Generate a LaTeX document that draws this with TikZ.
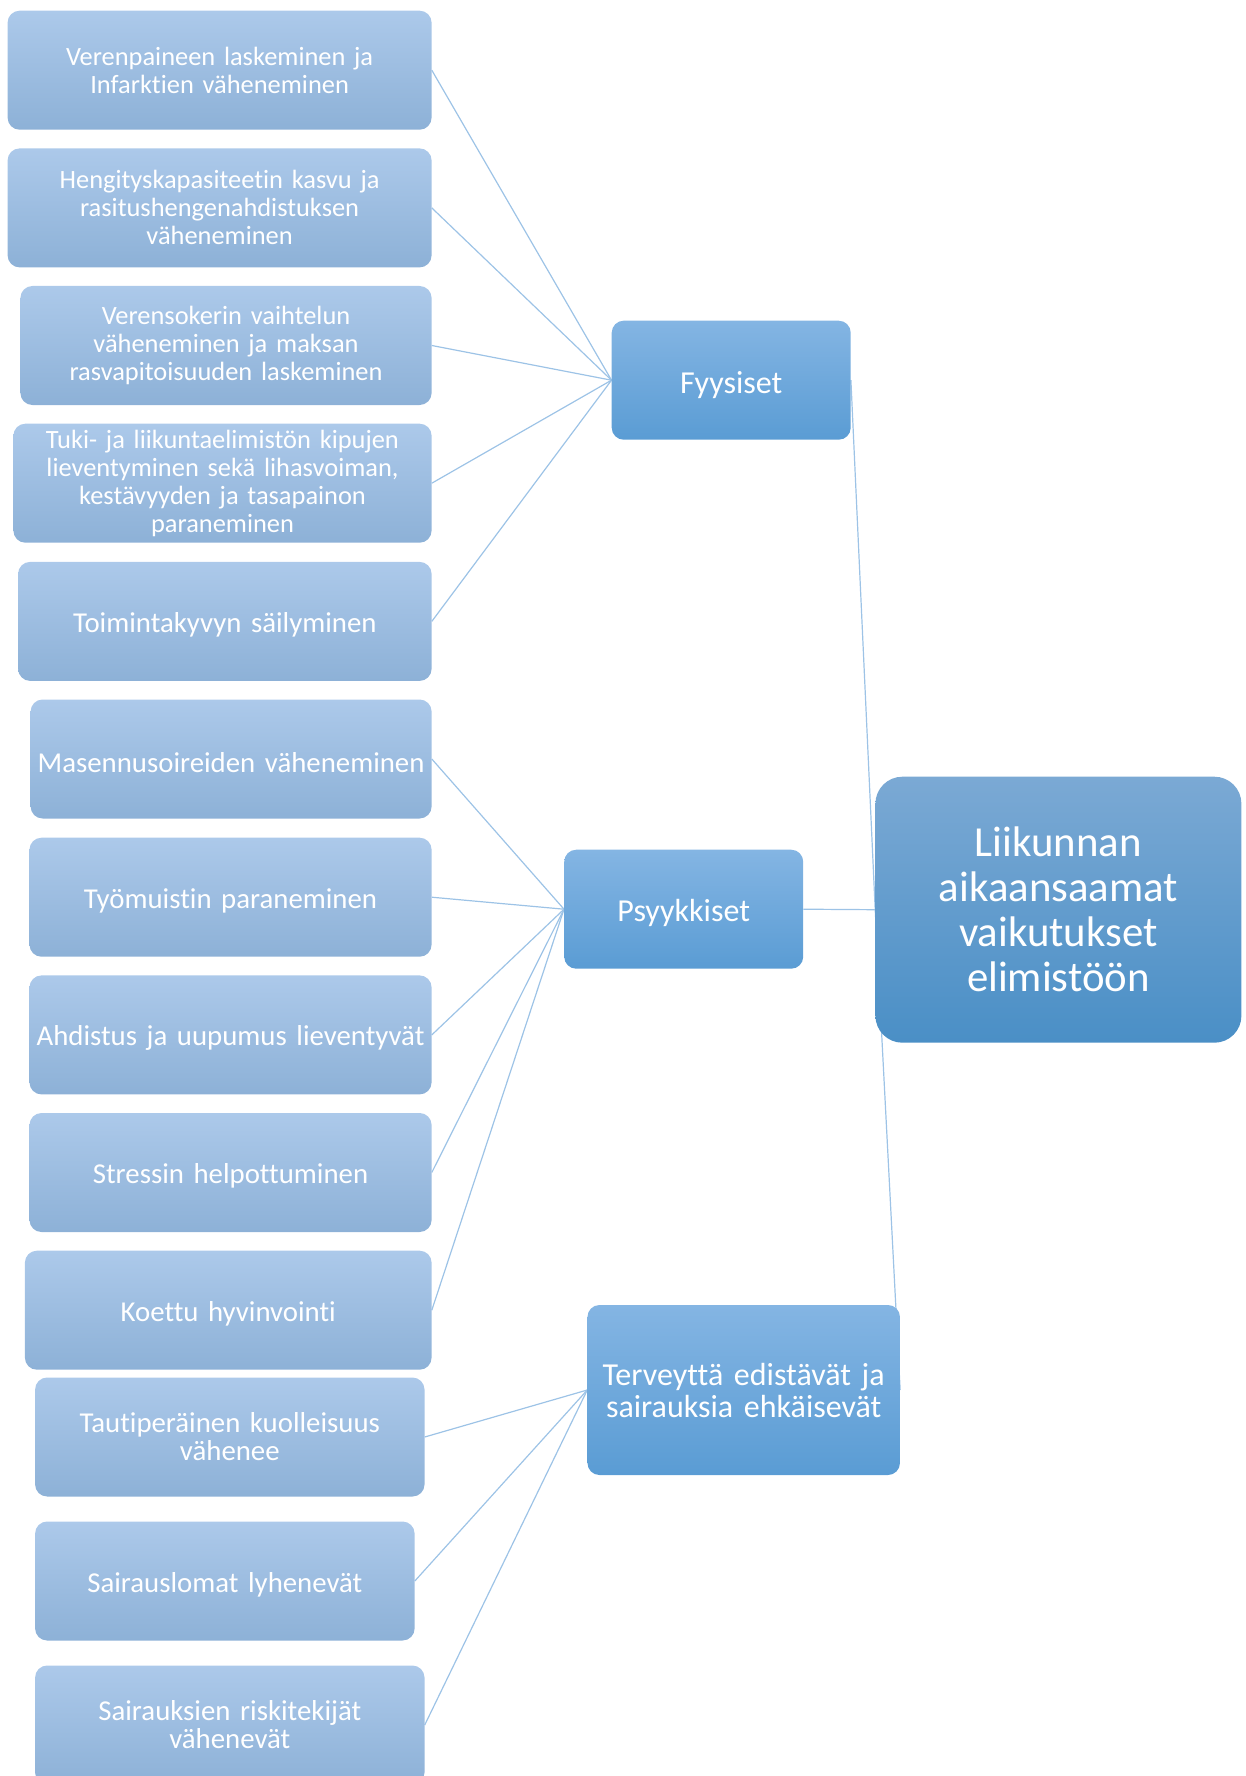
\documentclass[tikz,border=0pt]{standalone}
\usepackage{fontspec}
\setmainfont{Carlito}[Ligatures=NoCommon]
\pgfdeclarelayer{bg}
\pgfsetlayers{bg,main}
\definecolor{ltop}{RGB}{172,201,234}
\definecolor{lbot}{RGB}{141,177,215}
\definecolor{mtop}{RGB}{132,181,227}
\definecolor{mbot}{RGB}{90,156,212}
\definecolor{rtop}{RGB}{123,169,212}
\definecolor{rbot}{RGB}{74,143,198}
\definecolor{conn}{RGB}{157,195,230}
\newcommand\lowtext[1]{\raisebox{-3.5pt}[\height][\depth]{#1}}
\tikzset{
  lbox/.style={rectangle, rounded corners=12pt, inner sep=0pt, minimum height=119pt,
    top color=ltop, bottom color=lbot, draw=none, text=white, align=center,
    font=\fontsize{28.8}{28}\selectfont},
  lboxsmall/.style={lbox, font=\fontsize{26.4}{28}\selectfont},
  mbox/.style={rectangle, rounded corners=12pt, inner sep=0pt,
    top color=mtop, bottom color=mbot, draw=none, text=white, align=center,
    font=\fontsize{32}{32}\selectfont},
  rbox/.style={rectangle, rounded corners=27pt, inner sep=0pt,
    top color=rtop, bottom color=rbot, draw=none, text=white, align=center,
    font=\fontsize{42.8}{45}\selectfont},
  conline/.style={draw=conn, line width=1.2pt}
}
\begin{document}
\begin{tikzpicture}[x=1pt,y=-1pt]
\useasboundingbox (0,0) rectangle (1245,1776);
\clip (0,0) rectangle (1245,1776);
% left boxes
\node[lboxsmall, text width=424pt] (a1) at (219.6,70.2) {Verenpaineen laskeminen ja\\Infarktien väheneminen};
\node[lboxsmall, text width=424pt] (a2) at (219.6,207.9) {Hengityskapasiteetin kasvu ja\\rasitushengenahdistuksen\\väheneminen};
\node[lboxsmall, text width=411.2pt] (a3) at (226,345.5) {Verensokerin vaihtelun\\väheneminen ja maksan\\rasvapitoisuuden laskeminen};
\node[lboxsmall, text width=418.2pt] (a4) at (222.5,483.2) {Tuki- ja liikuntaelimistön kipujen\\lieventyminen sekä lihasvoiman,\\kestävyyden ja tasapainon\\paraneminen};
\node[lbox, text width=413.5pt] (a5) at (224.85,621.4) {\lowtext{Toimintakyvyn säilyminen}};
\node[lbox, text width=401pt] (a6) at (231.1,759) {\lowtext{Masennusoireiden väheneminen}};
\node[lbox, text width=402.1pt] (a7) at (230.55,897.2) {\lowtext{Työmuistin paraneminen}};
\node[lbox, text width=402.1pt] (a8) at (230.55,1034.9) {\lowtext{Ahdistus ja uupumus lieventyvät}};
\node[lbox, text width=402.1pt] (a9) at (230.55,1172.5) {\lowtext{Stressin helpottuminen}};
\node[lbox, text width=406.7pt] (a10) at (228.25,1310.2) {\lowtext{Koettu hyvinvointi}};
\node[lbox, text width=389.4pt] (a11) at (229.8,1437) {Tautiperäinen kuolleisuus\\vähenee};
\node[lbox, text width=379.5pt] (a12) at (224.85,1581) {\lowtext{Sairauslomat lyhenevät}};
\node[lbox, text width=389.4pt] (a13) at (229.8,1725) {Sairauksien riskitekijät\\vähenevät};
% middle boxes
\node[mbox, text width=239pt, minimum height=119pt] (f) at (731.2,380.2) {\raisebox{-4.5pt}[\height][\depth]{Fyysiset}};
\node[mbox, text width=239pt, minimum height=119pt] (p) at (683.7,909.2) {\raisebox{-4pt}[\height][\depth]{Psyykkiset}};
\node[mbox, text width=312.5pt, minimum height=170pt] (t) at (743.7,1390) {Terveyttä edistävät ja\\sairauksia ehkäisevät};
% root
\node[rbox, text width=366pt, minimum height=266pt] (r) at (1058.4,909.7) {Liikunnan\\aikaansaamat\\vaikutukset\\elimistöön};
\begin{pgfonlayer}{bg}
\foreach \i in {1,...,5} {\draw[conline] (a\i.east) -- (f.west);}
\foreach \i in {6,...,10} {\draw[conline] (a\i.east) -- (p.west);}
\foreach \i in {11,12,13} {\draw[conline] (a\i.east) -- (t.west);}
\draw[conline] (f.east) -- (r.west);
\draw[conline] (p.east) -- (r.west);
\draw[conline] (t.east) -- (r.west);
\end{pgfonlayer}
\end{tikzpicture}
\end{document}
